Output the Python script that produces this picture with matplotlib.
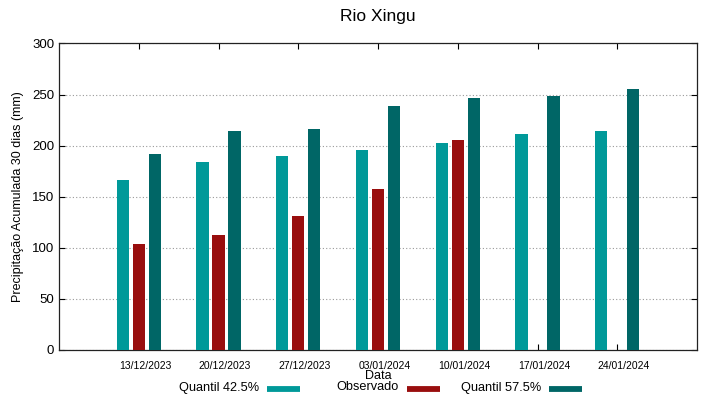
import matplotlib
matplotlib.use("Agg")
import matplotlib.pyplot as plt
import numpy as np
from matplotlib.lines import Line2D

plt.rcParams['font.family'] = ['Liberation Sans', 'DejaVu Sans']

dates = ["13/12/2023", "20/12/2023", "27/12/2023", "03/01/2024",
         "10/01/2024", "17/01/2024", "24/01/2024"]
q425 = [166, 184, 190, 196, 203, 211, 214]
observado = [104, 113, 131, 158, 206, np.nan, np.nan]
q575 = [192, 214, 216, 239, 247, 249, 255]
series_labels = ["Quantil 42.5%", "Observado", "Quantil 57.5%"]

c_q425 = "#009999"
c_obs = "#990e0e"
c_q575 = "#006666"
colors = [c_q425, c_obs, c_q575]

W, H = 719, 399
fig = plt.figure(figsize=(W/100, H/100), dpi=100)
ax = fig.add_axes([59/W, 1-350/H, (697-59)/W, (350-43.5)/H])

x = np.arange(len(dates))
w = 0.155
off = 0.2
ax.bar(x - off, q425, w, color=c_q425, zorder=3)
ax.bar(x, observado, w, color=c_obs, zorder=3)
ax.bar(x + off, q575, w, color=c_q575, zorder=3)

ax.set_xlim(-1, 7)
ax.set_ylim(0, 300)
ax.set_yticks(np.arange(0, 301, 50))
# major ticks mark the groups; labels sit slightly right of them (as in the reference)
ax.set_xticks(x)
ax.set_xticklabels([])
ax.set_xticks(x + 0.08, minor=True)
ax.set_xticklabels(dates, minor=True, fontsize=7.5)
ax.tick_params(axis='x', which='minor', length=0, pad=8)
ax.tick_params(axis='y', labelsize=9.5, direction='in', length=4, right=True, width=0.8)
ax.tick_params(axis='x', which='major', direction='in', length=4, top=True, width=0.8)
ax.yaxis.grid(True, linestyle=(0, (1, 2)), color='#999999', linewidth=0.8, zorder=0)
for s in ax.spines.values():
    s.set_linewidth(0.9)
    s.set_color('#222222')

ax.set_ylabel("Precipitação Acumulada 30 dias (mm)", fontsize=9, labelpad=6)
fig.text(378/W, 1-376/H, "Data", ha='center', va='center', fontsize=9)
fig.text(378/W, 1-16/H, "Rio Xingu", ha='center', va='center', fontsize=12.5)

# legend drawn gnuplot-style: right-justified text followed by a sample
text_right = [259, 399, 541]
for xr, lab, col in zip(text_right, series_labels, colors):
    fig.text(xr/W, 1-387.5/H, lab, ha='right', va='center', fontsize=9.2)
    fig.add_artist(Line2D([(xr+8)/W, (xr+41)/W], [1-389/H, 1-389/H],
                          color=col, lw=4.2, solid_capstyle='butt',
                          transform=fig.transFigure))

fig.savefig("out.png", dpi=100)
